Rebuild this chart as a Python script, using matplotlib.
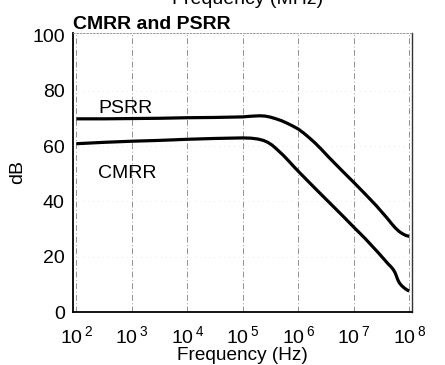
import numpy as np
import matplotlib
matplotlib.use('Agg')
import matplotlib.pyplot as plt

plt.rcParams['font.family'] = ['Liberation Sans', 'DejaVu Sans']
plt.rcParams['mathtext.fontset'] = 'custom'
plt.rcParams['mathtext.rm'] = 'Liberation Sans'
plt.rcParams['mathtext.default'] = 'regular'

# values (log10 of frequency in Hz, dB)
psrr_logf = [2.0, 2.5, 3.0, 3.5, 4.0, 4.5, 5.0, 5.15, 5.3, 5.4, 5.5, 5.6, 5.7, 5.8,
             5.9, 6.0, 6.1, 6.2, 6.3, 6.4, 6.55, 6.8, 7.0, 7.2, 7.4, 7.5, 7.6, 7.68,
             7.75, 7.82, 7.88, 7.94, 8.0]
psrr_db = [69.9, 69.9, 70.0, 70.1, 70.3, 70.4, 70.6, 70.85, 71.0, 70.9, 70.5, 69.9, 69.2, 68.3,
           67.3, 66.2, 64.7, 63.0, 61.2, 59.2, 56.0, 50.9, 46.9, 42.8, 38.6, 36.3, 34.0, 32.0,
           30.4, 29.1, 28.3, 27.7, 27.4]

cmrr_logf = [2.0, 2.5, 3.0, 3.5, 4.0, 4.5, 5.0, 5.15, 5.27, 5.37, 5.45, 5.52, 5.58,
             5.65, 5.73, 5.82, 5.92, 6.03, 6.33, 6.57, 6.8, 7.02, 7.2, 7.44, 7.55,
             7.62, 7.67, 7.71, 7.74, 7.765, 7.79, 7.82, 7.86, 7.91, 7.96, 8.0]
cmrr_db = [60.9, 61.4, 61.8, 62.1, 62.5, 62.8, 63.0, 62.9, 62.6, 62.1, 61.4, 60.5, 59.5,
           58.2, 56.7, 54.8, 52.6, 50.3, 44.2, 39.4, 34.8, 30.3, 26.7, 21.5, 19.0,
           17.4, 16.4, 15.4, 14.4, 13.2, 11.8, 10.6, 9.6, 8.7, 8.0, 7.6]

decades = [2, 3, 4, 5, 6, 7, 8]
y_ticks = [0, 20, 40, 60, 80, 100]

fig = plt.figure(figsize=(4.45, 3.65), dpi=100)
ax = fig.add_axes([0.164, 0.145, 0.762, 0.765])

ax.plot(10 ** np.array(psrr_logf), psrr_db, color='black', lw=2.3,
        solid_capstyle='butt', solid_joinstyle='round')
ax.plot(10 ** np.array(cmrr_logf), cmrr_db, color='black', lw=2.3,
        solid_capstyle='butt', solid_joinstyle='round')

ax.set_xscale('log')
ax.set_xlim(10 ** 1.94, 10 ** 8.05)
ax.set_ylim(0, 101)
ax.set_xticks([10.0 ** d for d in decades])
ax.set_xticklabels([r'$10^{\,%d}$' % d for d in decades])
ax.minorticks_off()
ax.set_yticks(y_ticks)
ax.tick_params(axis='both', length=0, labelsize=14)
ax.tick_params(axis='x', pad=9.5)
ax.tick_params(axis='y', pad=6)

ax.grid(True, axis='x', color='0.5', lw=0.6, linestyle=(0, (7, 3, 1, 3)))
ax.grid(True, axis='y', color='0.82', lw=0.5, linestyle=(0, (1, 6)))

for side in ['left', 'bottom']:
    ax.spines[side].set_linewidth(1.3)
    ax.spines[side].set_color('black')
ax.spines['right'].set_linewidth(1.0)
ax.spines['right'].set_color('0.2')
ax.spines['top'].set_linewidth(0.6)
ax.spines['top'].set_color('0.55')
ax.spines['top'].set_linestyle((0, (2, 2)))

ax.text(250, 73.5, 'PSRR', fontsize=14, va='center', ha='left')
ax.text(250, 50.2, 'CMRR', fontsize=14, va='center', ha='left')

ax.set_xlabel('Frequency (Hz)', fontsize=13.7, labelpad=0)
ax.set_ylabel('dB', fontsize=14, labelpad=4)
ax.set_title('CMRR and PSRR', loc='left', fontsize=14, fontweight='bold', pad=3)

# cut-off label of the chart above
fig.text(0.557, 0.99, 'Frequency (MHz)', ha='center', va='baseline', fontsize=14)

fig.savefig('out.png', dpi=100)
